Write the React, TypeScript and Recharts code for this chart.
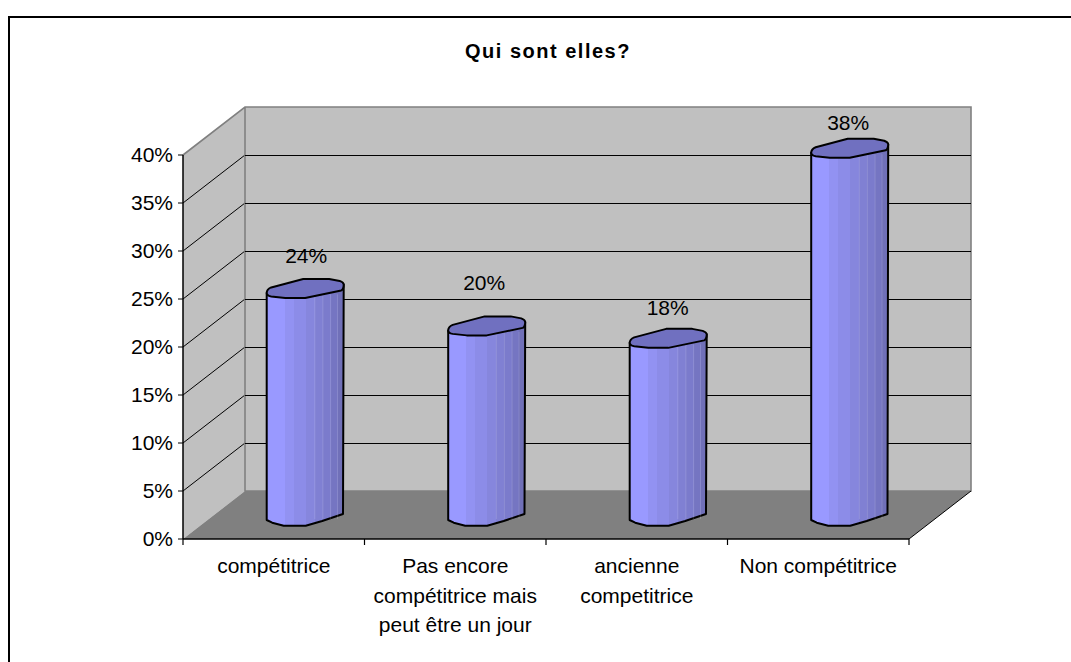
import React from 'react';
import { BarChart, Bar, XAxis, YAxis, LabelList, usePlotArea } from 'recharts';

const categories = ['compétitrice', 'Pas encore compétitrice mais peut être un jour', 'ancienne competitrice', 'Non compétitrice'];
const categoryLines = [['compétitrice'], ['Pas encore', 'compétitrice mais', 'peut être un jour'], ['ancienne', 'competitrice'], ['Non compétitrice']];
const values = [23.6, 19.7, 18.4, 38.2];
const shownLabels = ['24%', '20%', '18%', '38%'];
const yTicks = [0, 5, 10, 15, 20, 25, 30, 35, 40];
const title = 'Qui sont elles?';

const data = categories.map((c, i) => ({ name: c, value: values[i], label: shownLabels[i], lines: categoryLines[i] }));

const FONT = '"Liberation Sans", Arial, sans-serif';
const DEPTH_X = 62;
const DEPTH_Y = 48;
const MID_X = 31.7;
const MID_Y = 24;
const labelNudge = [[1, -57], [-2.5, -67], [-0.5, -55], [-1.5, -50]];
const stripeColors = ['#9999FF', '#9292F2', '#8C8CE8', '#8686DD', '#8080D3', '#7B7BCC', '#7575C2', '#7070B8'];
const stripeEnds = [0.235, 0.35, 0.505, 0.625, 0.73, 0.83, 0.92, 1];

function Walls() {
  const p = usePlotArea();
  if (!p) return null;
  const L = p.x, T = p.y, R = p.x + p.width, B = p.y + p.height;
  const yOf = (t: number) => B - (t / 40) * p.height;
  const band = p.width / categories.length;
  return (
    <g>
      <path d={`M9 700 L9 17 L1100 17`} fill="none" stroke="#000" strokeWidth={2} />
      <polygon points={`${L + DEPTH_X},${T - DEPTH_Y} ${R + DEPTH_X},${T - DEPTH_Y} ${R + DEPTH_X},${B - DEPTH_Y} ${L + DEPTH_X},${B - DEPTH_Y}`} fill="#C0C0C0" />
      <polygon points={`${L},${T} ${L + DEPTH_X},${T - DEPTH_Y} ${L + DEPTH_X},${B - DEPTH_Y} ${L},${B}`} fill="#C0C0C0" />
      <polygon points={`${L},${B} ${L + DEPTH_X},${B - DEPTH_Y} ${R + DEPTH_X},${B - DEPTH_Y} ${R},${B}`} fill="#808080" />
      {yTicks.filter((t) => t > 0 && t < 40).map((t) => (
        <line key={`s${t}`} x1={L} y1={yOf(t)} x2={L + DEPTH_X} y2={yOf(t) - DEPTH_Y} stroke="#000" strokeWidth={1} />
      ))}
      <path
        d={`M${L} ${T} L${L + DEPTH_X} ${T - DEPTH_Y} L${R + DEPTH_X} ${T - DEPTH_Y} L${R + DEPTH_X} ${B - DEPTH_Y} L${L + DEPTH_X} ${B - DEPTH_Y} L${L + DEPTH_X} ${T - DEPTH_Y}`}
        fill="none"
        stroke="#808080"
        strokeWidth={1.6}
      />
      {yTicks.filter((t) => t > 0).map((t) =>
        t < 40 ? (
          <line key={`b${t}`} x1={L + DEPTH_X} y1={yOf(t) - DEPTH_Y + 0.5} x2={R + DEPTH_X} y2={yOf(t) - DEPTH_Y + 0.5} stroke="#000" strokeWidth={1} />
        ) : null,
      )}
      <line x1={R} y1={B} x2={R + DEPTH_X} y2={B - DEPTH_Y} stroke="#000" strokeWidth={1} />
      {categories.concat('').map((_, i) => (
        <line key={i} x1={L + i * band} y1={B} x2={L + i * band} y2={B + 6} stroke="#000" strokeWidth={1.2} />
      ))}
      <defs>
        <linearGradient id="cyl" x1="0" y1="0" x2="1" y2="0">
          {stripeColors.map((c, i) => [
            <stop key={`a${i}`} offset={i === 0 ? 0 : stripeEnds[i - 1]} stopColor={c} />,
            <stop key={`b${i}`} offset={stripeEnds[i]} stopColor={c} />,
          ])}
        </linearGradient>
      </defs>
    </g>
  );
}

function Cylinder(props: any) {
  const { x, y, width, height } = props;
  const cx = x + width / 2 + MID_X;
  const top = y - MID_Y;
  const base = y + height - MID_Y;
  const s = width / 77;
  const pt = (dx: number, dy: number, o: number) => `${cx + dx * s} ${o + dy}`;
  const body = `M${pt(-38.5, 4.5, top)} L${pt(-38.5, 5, base)} L${pt(-33, 7.7, base)} L${pt(-21.5, 10.7, base)} L${pt(0.5, 10.7, base)} L${pt(17, 6, base)} L${pt(37.8, -1, base)} L${pt(38.5, -4, top)} Z`;
  const cap = `M${pt(-38.5, 4.5, top)} C${pt(-38.5, 1.5, top)} ${pt(-36.5, 0, top)} ${pt(-34, -1, top)} L${pt(-2, -9.5, top)} L${pt(24, -9.5, top)} L${pt(34.5, -7.5, top)} C${pt(37, -6.5, top)} ${pt(38.5, -5.5, top)} ${pt(38.5, -4, top)} C${pt(38.5, -1, top)} ${pt(38, 1, top)} ${pt(36, 2, top)} L${pt(0, 9.5, top)} L${pt(-20, 9.5, top)} L${pt(-34, 8, top)} C${pt(-37, 7.5, top)} ${pt(-38.5, 6, top)} ${pt(-38.5, 4.5, top)} Z`;
  return (
    <g>
      <path d={body} fill="url(#cyl)" stroke="#000" strokeWidth={2} strokeLinejoin="round" />
      {stripeEnds.slice(3, 7).map((e, i) => {
        const lx = cx + (e - 0.5) * 77 * s;
        return <line key={i} x1={lx} y1={top + 6} x2={lx} y2={base + 4} stroke="#fff" strokeOpacity={0.14} strokeWidth={1} />;
      })}
      <path d={cap} fill="#7070C0" stroke="#000" strokeWidth={2} strokeLinejoin="round" />
    </g>
  );
}

function CategoryTick(props: any) {
  const { x, y, index } = props;
  return (
    <g>
      {categoryLines[index].map((line, i) => (
        <text key={i} x={x} y={y + 26 + i * 29.5} textAnchor="middle" fontFamily={FONT} fontSize={21} fill="#000">
          {line}
        </text>
      ))}
    </g>
  );
}

function ValueLabel(props: any) {
  const { x, y, width, index } = props;
  const [dx, dy] = labelNudge[index];
  return (
    <text x={x + width / 2 + MID_X + dx} y={y + dy} textAnchor="middle" dominantBaseline="central" fontFamily={FONT} fontSize={21} fill="#000">
      {shownLabels[index]}
    </text>
  );
}

export default function App() {
  return (
    <div style={{ position: 'fixed', left: 0, top: 0, width: 1071, height: 662, overflow: 'hidden', background: '#fff' }}>
      <BarChart
        width={1071}
        height={662}
        data={data}
        margin={{ left: 123, right: 162, top: 155, bottom: 63 }}
        barSize={77}
      >
        <Walls />
        <XAxis dataKey="name" interval={0} tick={<CategoryTick />} tickLine={false} axisLine={{ stroke: '#000', strokeWidth: 1.5 }} height={60} />
        <YAxis
          domain={[0, 40]}
          ticks={yTicks}
          width={60}
          tickFormatter={(v: number) => `${v}%`}
          tick={{ fontFamily: FONT, fontSize: 21, fill: '#000' }}
          tickSize={5}
          tickMargin={5}
          tickLine={{ stroke: '#000' }}
          axisLine={{ stroke: '#000', strokeWidth: 1.5 }}
        />
        <Bar dataKey="value" isAnimationActive={false} shape={<Cylinder />}>
          <LabelList dataKey="label" content={<ValueLabel />} />
        </Bar>
        <text x={548} y={58} textAnchor="middle" fontFamily={FONT} fontSize={20} letterSpacing={1.5} fontWeight="bold" fill="#000">
          {title}
        </text>
      </BarChart>
    </div>
  );
}
